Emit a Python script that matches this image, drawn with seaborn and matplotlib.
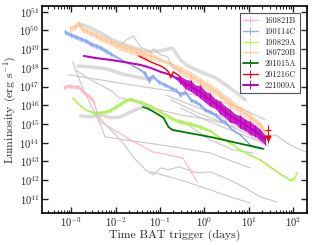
import numpy as np
import matplotlib
matplotlib.use("Agg")
import matplotlib.pyplot as plt
import seaborn as sns

# all values as log10(t / days) and log10(L / erg s^-1)

# 160821B
pink_t = [-3.17, -3.08, -3.01, -2.92, -2.85, -2.79, -2.74, -2.67, -2.61, -2.54, -2.49, -2.40, -2.34, -1.66, -1.17, -0.49, -0.16]
pink_L = [46.93, 47.04, 47.02, 46.98, 46.99, 46.88, 46.72, 46.61, 46.50, 46.34, 46.13, 45.49, 45.11, 44.15, 43.51, 43.19, 41.90]
pink_e = [0.1, 0.1, 0.1, 0.1, 0.1, 0.1, 0.1, 0.1, 0.1, 0.1, 0.1, 0.05, 0, 0, 0, 0, 0]

# 190114C
blue_t = [-3.15, -3.01, -2.90, -2.79, -2.67, -2.56, -2.45, -2.34, -2.22, -2.11, -1.78, -1.44, -1.33, -1.26, -1.17, -1.03, -0.88,
          -0.76, -0.65, -0.54, -0.43, -0.31, -0.20, -0.09, 0.02, 0.13, 0.25, 0.36, 0.47, 0.58, 0.70, 0.81, 1.03, 1.26]
blue_L = [49.93, 49.76, 49.66, 49.55, 49.44, 49.28, 49.18, 49.07, 48.91, 48.75, 48.32, 47.89, 47.68, 47.36, 47.57, 47.25, 47.09,
          46.93, 46.82, 46.56, 46.72, 46.29, 46.18, 46.02, 45.75, 45.65, 45.49, 45.22, 45.11, 44.79, 44.58, 44.42, 43.88, 43.72]
blue_e = [0.12, 0.12, 0.12, 0.12, 0.12, 0.12, 0.12, 0.12, 0.12, 0.1, 0, 0.05, 0.15, 0.15, 0.12, 0.1, 0.1,
          0.1, 0.1, 0.12, 0.1, 0.1, 0.1, 0.1, 0.1, 0.1, 0.1, 0.1, 0.1, 0.05, 0.05, 0.05, 0.05, 0.05]

# 190829A
lgrn_t = [-2.97, -2.88, -2.79, -2.67, -2.56, -2.45, -2.34, -2.22, -2.11, -2.00, -1.89, -1.78, -1.66, -1.55, -1.44, -1.21,
          -0.99, -0.76, -0.54, -0.31, -0.09, 0.13, 0.36, 0.58, 0.81, 1.03, 1.26, 1.48, 1.71, 1.93, 2.02, 2.09]
lgrn_L = [46.40, 46.18, 45.97, 45.75, 45.65, 45.59, 45.62, 45.65, 45.75, 45.91, 46.07, 46.24, 46.34, 46.24, 46.18, 45.97,
          45.65, 45.33, 45.11, 45.01, 44.84, 44.63, 44.26, 43.99, 43.61, 43.35, 43.08, 42.71, 42.33, 42.01, 42.06, 42.39]
lgrn_e = [0.05, 0.05, 0.05, 0.05, 0.05, 0.08, 0.08, 0.08, 0.1, 0.1, 0.1, 0.1, 0.1, 0.08, 0.08, 0.08,
          0.08, 0.1, 0.1, 0.1, 0.1, 0.08, 0.05, 0.05, 0.05, 0.05, 0.05, 0.05, 0.05, 0.05, 0.05, 0.05]

# 180720B
orng_t = [-3.03, -2.92, -2.83, -2.74, -2.65, -2.56, -2.45, -2.34, -2.22, -2.11, -2.00, -1.89, -1.78, -1.66, -1.55,
          -1.44, -1.33, -1.21, -0.99, -0.76, -0.54, -0.31, -0.09, 0.13, 0.36, 0.58, 0.81, 1.03, 1.26, 1.37]
orng_L = [50.09, 50.19, 50.35, 50.03, 49.98, 49.87, 49.76, 49.60, 49.50, 49.39, 49.23, 49.12, 49.07, 48.96, 48.86,
          48.80, 48.70, 48.64, 48.43, 48.21, 47.89, 47.57, 47.25, 46.93, 46.56, 46.13, 45.75, 45.38, 44.95, 44.58]
orng_e = [0.15, 0.15, 0.15, 0.15, 0.15, 0.15, 0.15, 0.18, 0.18, 0.18, 0.18, 0.18, 0.2, 0.2, 0.2,
          0.2, 0.2, 0.2, 0.1, 0.1, 0.2, 0.25, 0.2, 0.25, 0.2, 0.25, 0.2, 0.2, 0.15, 0.15]

# 201015A
dgrn_t = [-1.39, -1.26, -1.10, -0.92, -0.81, -0.72, 0.13, 1.33]
dgrn_L = [45.91, 45.81, 45.59, 45.33, 44.84, 44.68, 44.31, 43.67]

# 201216C
red_t = [-1.48, -1.39, -1.30, -1.21, -1.10, -0.99, -0.88, -0.81, -0.76, -0.70, -0.63, -0.54]
red_L = [48.64, 48.53, 48.43, 48.32, 48.21, 48.11, 47.95, 47.79, 47.47, 47.79, 47.68, 47.52]
red_late_t = [1.44]
red_late_L = [44.68]
red_lim_L = [44.25]

# 221009A
mag_t = [-2.72, -2.45, -2.11, -1.82, -1.44, -1.21, -0.99, -0.76, -0.65, -0.54, -0.43, -0.31, -0.20, -0.09,
         0.02, 0.13, 0.25, 0.36, 0.47, 0.58, 0.70, 0.81, 0.92, 1.03, 1.15, 1.26, 1.37]
mag_L = [48.64, 48.53, 48.43, 48.32, 48.16, 48.00, 47.79, 47.63, 47.47, 47.36, 47.14, 47.04, 46.82, 46.72,
         46.45, 46.29, 46.07, 45.86, 45.65, 45.43, 45.27, 45.11, 44.95, 44.79, 44.63, 44.42, 44.15]
mag_e = [0.02, 0.02, 0.02, 0.02, 0.02, 0.02, 0.02, 0.02, 0.05, 0.2, 0.25, 0.3, 0.25, 0.35,
         0.3, 0.35, 0.25, 0.35, 0.3, 0.35, 0.25, 0.35, 0.3, 0.35, 0.3, 0.3, 0.25]

# other GRBs (grey)
gray_t = [
    [-2.83, -2.61, -2.34, -2.07, -1.78, -1.44, -1.21, -0.99, -0.72, -0.54, -0.38, -0.09, 0.25, 0.58, 0.92],
    [-1.93, -1.75, -1.60, -1.44, -1.21, -1.15, -0.99, -0.83, -0.72, -0.54],
    [-2.85, -2.56, -2.22, -2.00, -1.78, -1.44, -1.21],
    [-3.06, -2.34, -1.66, -0.76, 0.13, 0.81, 1.37],
    [-2.90, -2.56, -2.22, -2.07, -1.93, -1.66, -1.21, -0.54, 0.13, 0.81, 1.30],
    [-2.79, -2.56, -2.34, -2.11, -1.89, -1.66, -1.44],
    [-2.97, -2.79, -2.56, -2.34, -2.24, -1.66, -1.15, -0.54, 0.13, 1.03],
    [-2.45, -2.22, -1.89, -1.55, -1.33, -1.15, -0.99, -0.81, -0.58, -0.38, -0.16, 0.13, 0.47, 0.88, 1.26, 1.64],
    [-1.21, -0.54, 0.13, 0.58, 1.03],
    [1.15, 1.37, 1.60, 1.93, 2.27],
    [-0.54, 0.13, 0.65, 1.10],
    [-0.88, -0.31, 0.25, 0.81, 1.30],
    [-0.76, -0.20, 0.36, 0.92, 1.37],
    [-0.54, 0.02, 0.58, 1.15, 1.44],
]
gray_L = [
    [50.35, 50.19, 49.87, 49.50, 49.23, 48.96, 48.86, 48.91, 49.07, 48.43, 48.11, 47.79, 47.47, 46.93, 46.29],
    [49.18, 49.50, 49.71, 49.12, 48.86, 49.02, 48.70, 48.59, 48.00, 47.79],
    [48.11, 48.05, 47.95, 47.79, 47.63, 47.47, 47.36],
    [47.63, 47.36, 47.09, 46.77, 46.40, 45.86, 45.22],
    [47.89, 47.36, 46.93, 46.72, 46.40, 46.29, 45.86, 45.49, 45.22, 44.79, 44.42],
    [45.43, 45.38, 45.49, 45.33, 45.38, 45.65, 45.86],
    [48.32, 47.20, 46.02, 44.95, 44.31, 44.10, 43.94, 43.72, 43.45, 42.65],
    [45.59, 44.95, 44.15, 43.08, 42.55, 42.28, 42.65, 42.55, 42.71, 42.55, 42.39, 42.44, 42.12, 41.64, 41.10, 40.83],
    [42.44, 42.01, 41.48, 41.10, 40.78],
    [44.42, 44.31, 44.42, 43.88, 43.51],
    [45.22, 44.15, 43.61, 43.45],
    [46.56, 46.02, 45.49, 44.95, 44.26],
    [46.29, 45.65, 45.11, 44.52, 43.99],
    [45.86, 45.22, 44.68, 44.15, 43.83],
]
gray_thick = [0, 2, 5]

sns.set_style("ticks")
plt.rcParams['font.family'] = ['cmr10', 'DejaVu Serif']
plt.rcParams['mathtext.fontset'] = 'cm'
plt.rcParams['axes.formatter.use_mathtext'] = True
plt.rcParams['axes.unicode_minus'] = False

fig = plt.figure(figsize=(3.12, 2.45), dpi=100)
ax = fig.add_axes([0.135, 0.131, 0.849, 0.845])
ax.set_xscale('log')
ax.set_yscale('log')

for i in range(len(gray_t)):
    t = 10 ** np.array(gray_t[i])
    L = 10 ** np.array(gray_L[i])
    if i in gray_thick:
        sns.lineplot(x=t, y=L, sort=False, estimator=None, color='#d2d2d2', lw=2.5, alpha=0.8, ax=ax, zorder=1)
    else:
        sns.lineplot(x=t, y=L, sort=False, estimator=None, color='#c8c8c8', lw=0.8, ax=ax, zorder=1)


def grb(tl, Ll, el, color, label, lw=1.0, alpha=1.0, band_alpha=0.6, z=3):
    t = 10 ** np.array(tl)
    L = 10 ** np.array(Ll)
    e = np.array(el) if el is not None else np.zeros(len(tl))
    if el is not None:
        ax.fill_between(t, L * 10 ** -e, L * 10 ** e, color=color, alpha=band_alpha, lw=0, zorder=z)
    yerr = [L * (1 - 10 ** -e), L * (10 ** e - 1)]
    ax.errorbar(t, L, yerr=yerr, color=color, lw=lw, elinewidth=0.7, alpha=alpha,
                label=label, zorder=z, capsize=0)


grb(pink_t, pink_L, pink_e, '#ffb0c4', '160821B', lw=0.9, alpha=0.9)
grb(blue_t, blue_L, blue_e, '#7ea4f0', '190114C', lw=1.0, alpha=0.85)
grb(lgrn_t, lgrn_L, lgrn_e, '#a8f040', '190829A', lw=1.0, alpha=0.8)
grb(orng_t, orng_L, orng_e, '#ffc08a', '180720B', lw=1.0, alpha=0.7, band_alpha=0.55)
grb(dgrn_t, dgrn_L, None, '#007a00', '201015A', lw=1.3, z=4)
grb(red_t, red_L, None, 'red', '201216C', lw=1.0, z=5)
grb(mag_t, mag_L, mag_e, '#c000c0', '221009A', lw=1.4, band_alpha=0.85, z=4)

ax.errorbar(10 ** np.array(red_late_t), 10 ** np.array(red_late_L), yerr=10 ** np.array(red_late_L) * 0.8,
            xerr=10 ** np.array(red_late_t) * 0.15, color='red', lw=0.8, fmt='none', zorder=5)
ax.plot(10 ** np.array(red_late_t), 10 ** np.array(red_lim_L), 'v', color='red', ms=3.5, zorder=5)

ax.set_xlim(2.2e-4, 2.05e2)
ax.set_ylim(1.76e40, 2.07e51)
ax.set_yticks([10.0 ** k for k in range(41, 52)])
ax.set_xticks([10.0 ** k for k in range(-3, 3)])
ax.tick_params(which='both', direction='in', top=True, right=True, labelsize=7.5, colors='#222222', pad=2)
ax.tick_params(which='major', length=4, width=1)
ax.tick_params(which='minor', length=2, width=0.8)
for s in ax.spines.values():
    s.set_linewidth(1.2)
    s.set_color('black')

ax.set_xlabel('Time BAT trigger (days)', fontsize=8.5, labelpad=0)
ax.set_ylabel('Luminosity (erg s$^{-1}$)', fontsize=8.5, labelpad=0)

leg = ax.legend(loc='upper right', fontsize=6, fancybox=False, framealpha=1, edgecolor='#555555',
                borderaxespad=0.9, handlelength=1.8, labelspacing=0.28, borderpad=0.4)
leg.get_frame().set_linewidth(0.8)

fig.savefig('out.png', dpi=100)
